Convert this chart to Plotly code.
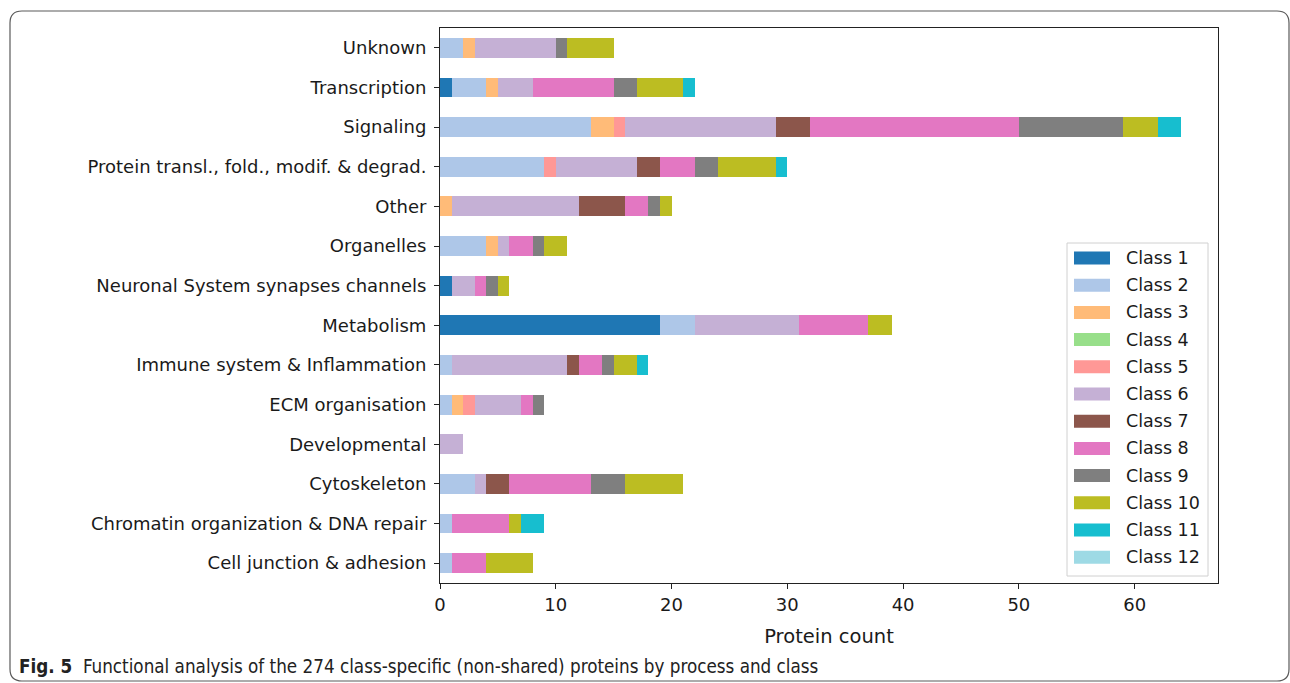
import plotly.graph_objects as go

# Functional categories (bottom to top on the y axis)
categories = [
    "Cell junction & adhesion",
    "Chromatin organization & DNA repair",
    "Cytoskeleton",
    "Developmental",
    "ECM organisation",
    "Immune system & Inflammation",
    "Metabolism",
    "Neuronal System synapses channels",
    "Organelles",
    "Other",
    "Protein transl., fold., modif. & degrad.",
    "Signaling",
    "Transcription",
    "Unknown",
]

class_names = [f"Class {i}" for i in range(1, 13)]

# Protein counts per class, aligned with `categories`
class_1 = [0, 0, 0, 0, 0, 0, 19, 1, 0, 0, 0, 0, 1, 0]
class_2 = [1, 1, 3, 0, 1, 1, 3, 0, 4, 0, 9, 13, 3, 2]
class_3 = [0, 0, 0, 0, 1, 0, 0, 0, 1, 1, 0, 2, 1, 1]
class_4 = [0, 0, 0, 0, 0, 0, 0, 0, 0, 0, 0, 0, 0, 0]
class_5 = [0, 0, 0, 0, 1, 0, 0, 0, 0, 0, 1, 1, 0, 0]
class_6 = [0, 0, 1, 2, 4, 10, 9, 2, 1, 11, 7, 13, 3, 7]
class_7 = [0, 0, 2, 0, 0, 1, 0, 0, 0, 4, 2, 3, 0, 0]
class_8 = [3, 5, 7, 0, 1, 2, 6, 1, 2, 2, 3, 18, 7, 0]
class_9 = [0, 0, 3, 0, 1, 1, 0, 1, 1, 1, 2, 9, 2, 1]
class_10 = [4, 1, 5, 0, 0, 2, 2, 1, 2, 1, 5, 3, 4, 4]
class_11 = [0, 2, 0, 0, 0, 1, 0, 0, 0, 0, 1, 2, 1, 0]
class_12 = [0, 0, 0, 0, 0, 0, 0, 0, 0, 0, 0, 0, 0, 0]

x_ticks = [0, 10, 20, 30, 40, 50, 60]

series = [class_1, class_2, class_3, class_4, class_5, class_6,
          class_7, class_8, class_9, class_10, class_11, class_12]

# tab20 palette, one colour per class
colors = ["#1f77b4", "#aec7e8", "#ffbb78", "#98df8a", "#ff9896", "#c5b0d5",
          "#8c564b", "#e377c2", "#7f7f7f", "#bcbd22", "#17becf", "#9edae5"]

W, H = 1290, 683
L, R, T, B = 440, 1218, 28, 583  # plot area in pixels
X_MAX = 67.2

def px(xpix):
    return (xpix - L) / (R - L)

def py(ypix):
    return (B - ypix) / (B - T)

FONT = "DejaVu Sans, Verdana, sans-serif"
TXT = "#1a1a1a"

fig = go.Figure()
for name, vals, col in zip(class_names, series, colors):
    fig.add_trace(go.Bar(
        y=categories, x=vals, name=name, orientation="h",
        marker=dict(color=col, line=dict(width=0)),
        width=0.5, showlegend=False,
    ))

shapes = []
annotations = []

# Legend box drawn in paper coordinates
lx0, lx1, ly0, ly1 = 1067, 1208, 243, 576
shapes.append(dict(
    type="rect", xref="paper", yref="paper",
    x0=px(lx0), x1=px(lx1), y0=py(ly1), y1=py(ly0),
    line=dict(color="#d0d0d0", width=1), fillcolor="rgba(255,255,255,0.85)",
    layer="above",
))
step = 27.2
for i, (name, col) in enumerate(zip(class_names, colors)):
    cy = 258 + i * step
    shapes.append(dict(
        type="rect", xref="paper", yref="paper",
        x0=px(1074), x1=px(1110), y0=py(cy + 6.5), y1=py(cy - 6.5),
        line=dict(width=0), fillcolor=col, layer="above",
    ))
    annotations.append(dict(
        xref="paper", yref="paper", x=px(1124), y=py(cy),
        xanchor="left", yanchor="middle", text=name, showarrow=False,
        font=dict(family=FONT, size=17.5, color=TXT),
    ))

# Rounded outer frame around the figure
fx0, fx1, fy0, fy1 = 10, 1289, 11, 681
rr = 12
path = (
    f"M {px(fx0 + rr)},{py(fy0)} L {px(fx1 - rr)},{py(fy0)} "
    f"Q {px(fx1)},{py(fy0)} {px(fx1)},{py(fy0 + rr)} "
    f"L {px(fx1)},{py(fy1 - rr)} Q {px(fx1)},{py(fy1)} {px(fx1 - rr)},{py(fy1)} "
    f"L {px(fx0 + rr)},{py(fy1)} Q {px(fx0)},{py(fy1)} {px(fx0)},{py(fy1 - rr)} "
    f"L {px(fx0)},{py(fy0 + rr)} Q {px(fx0)},{py(fy0)} {px(fx0 + rr)},{py(fy0)} Z"
)
shapes.append(dict(type="path", xref="paper", yref="paper", path=path,
                   line=dict(color="#5a5a5a", width=1.2), layer="below"))

# Caption
annotations.append(dict(
    xref="paper", yref="paper", x=px(17), y=py(666),
    xanchor="left", yanchor="middle", showarrow=False,
    text="<b>Fig. 5</b>  Functional analysis of the 274 class-specific (non-shared) proteins by process and class",
    font=dict(family="Liberation Sans Narrow, DejaVu Sans Condensed, Roboto Condensed, Arial Narrow, sans-serif",
              size=18.7, color="#222"),
))

fig.update_layout(
    width=W, height=H,
    barmode="stack",
    bargap=0,
    plot_bgcolor="white", paper_bgcolor="white",
    margin=dict(l=L, r=W - R, t=T, b=H - B, pad=0),
    font=dict(family=FONT, size=18, color=TXT),
    shapes=shapes,
    annotations=annotations,
    xaxis=dict(
        range=[0, X_MAX], tickvals=x_ticks, ticktext=[str(v) for v in x_ticks],
        showgrid=False, zeroline=False,
        showline=True, mirror=True, linecolor="#222", linewidth=1,
        ticks="outside", ticklen=5, tickwidth=1, tickcolor="#222",
        tickfont=dict(family=FONT, size=18, color=TXT),
        title=dict(text="Protein count", standoff=15,
                   font=dict(family=FONT, size=19.5, color=TXT)),
    ),
    yaxis=dict(
        type="category", categoryorder="array", categoryarray=categories,
        range=[-0.5, len(categories) - 0.5],
        showgrid=False, zeroline=False,
        showline=True, mirror=True, linecolor="#222", linewidth=1,
        ticks="outside", ticklen=5, tickwidth=1, tickcolor="#222",
        ticklabelstandoff=4,
        tickfont=dict(family=FONT, size=18, color=TXT),
    ),
)

fig.write_html("out.html")
